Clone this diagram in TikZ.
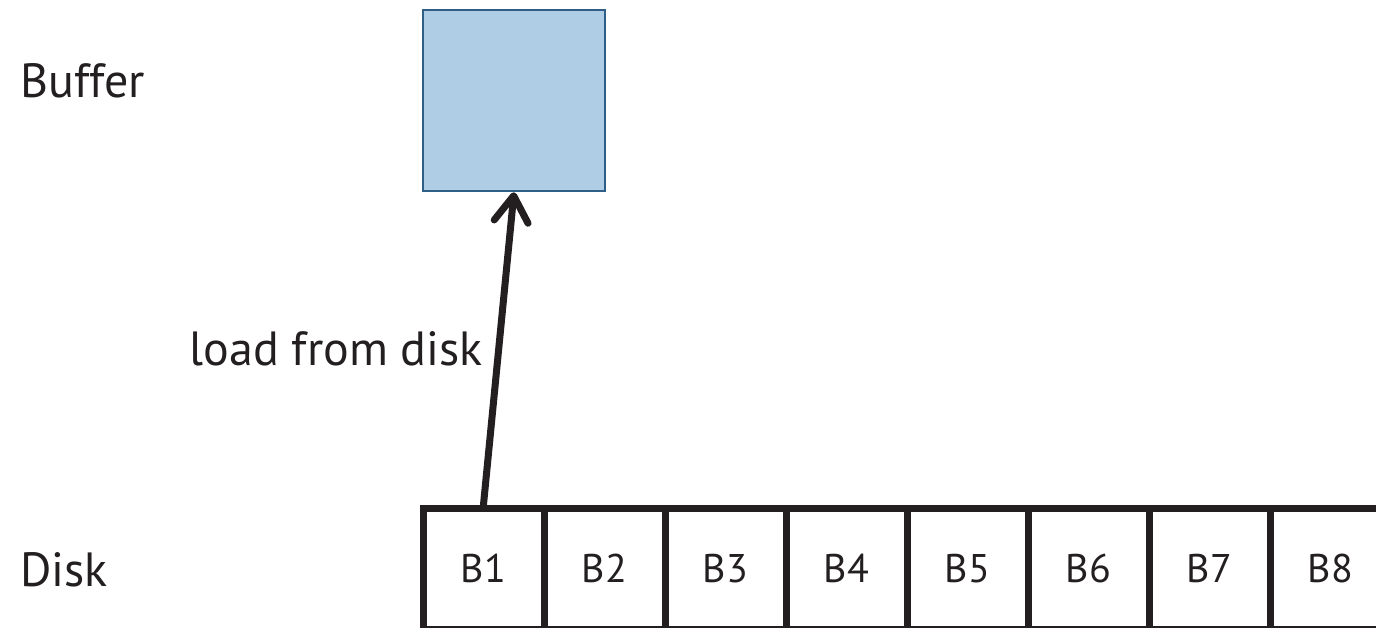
\documentclass[tikz,border=0pt]{standalone}
\usepackage{fontspec}
\setmainfont{PT Sans}
\usetikzlibrary{arrows.meta}
\definecolor{ink}{HTML}{231F20}
\definecolor{buffill}{HTML}{AFCDE4}
\definecolor{bufdraw}{HTML}{2F5F87}
\tikzset{
  lbl/.style={text=ink, font=\fontsize{48}{56}\selectfont, inner sep=0pt},
  cell/.style={draw=ink, line width=7pt, minimum width=121pt, minimum height=121pt, inner sep=0pt, text=ink, font=\fontsize{40}{48}\selectfont},
  buf/.style={draw=bufdraw, fill=buffill, line width=2.5pt, minimum width=182pt, minimum height=181pt, inner sep=0pt},
  loadarrow/.style={draw=ink, line width=7pt, line cap=round, -{Straight Barb[length=26pt, width=34pt, line cap=round, line join=round]}}
}
\begin{document}
\begin{tikzpicture}[x=1pt, y=-1pt]
\useasboundingbox (0,0) rectangle (1376,627);
\clip (0,0) rectangle (1376,627);
\node[buf] (buffer) at (514,100.5) {};
\node[lbl, anchor=west] (buflbl) at (20,81) {Buffer};
\node[lbl, anchor=west] (disklbl) at (20,570) {Disk};
\foreach \i in {1,...,8} {
  \node[cell] (b\i) at ({483.5+121*(\i-1)},568.5) {B\i};
}
\draw[loadarrow] (b1.north) -- (buffer.south);
\node[lbl, anchor=east] (loadlbl) at (483,349) {load from disk};
\end{tikzpicture}
\end{document}
